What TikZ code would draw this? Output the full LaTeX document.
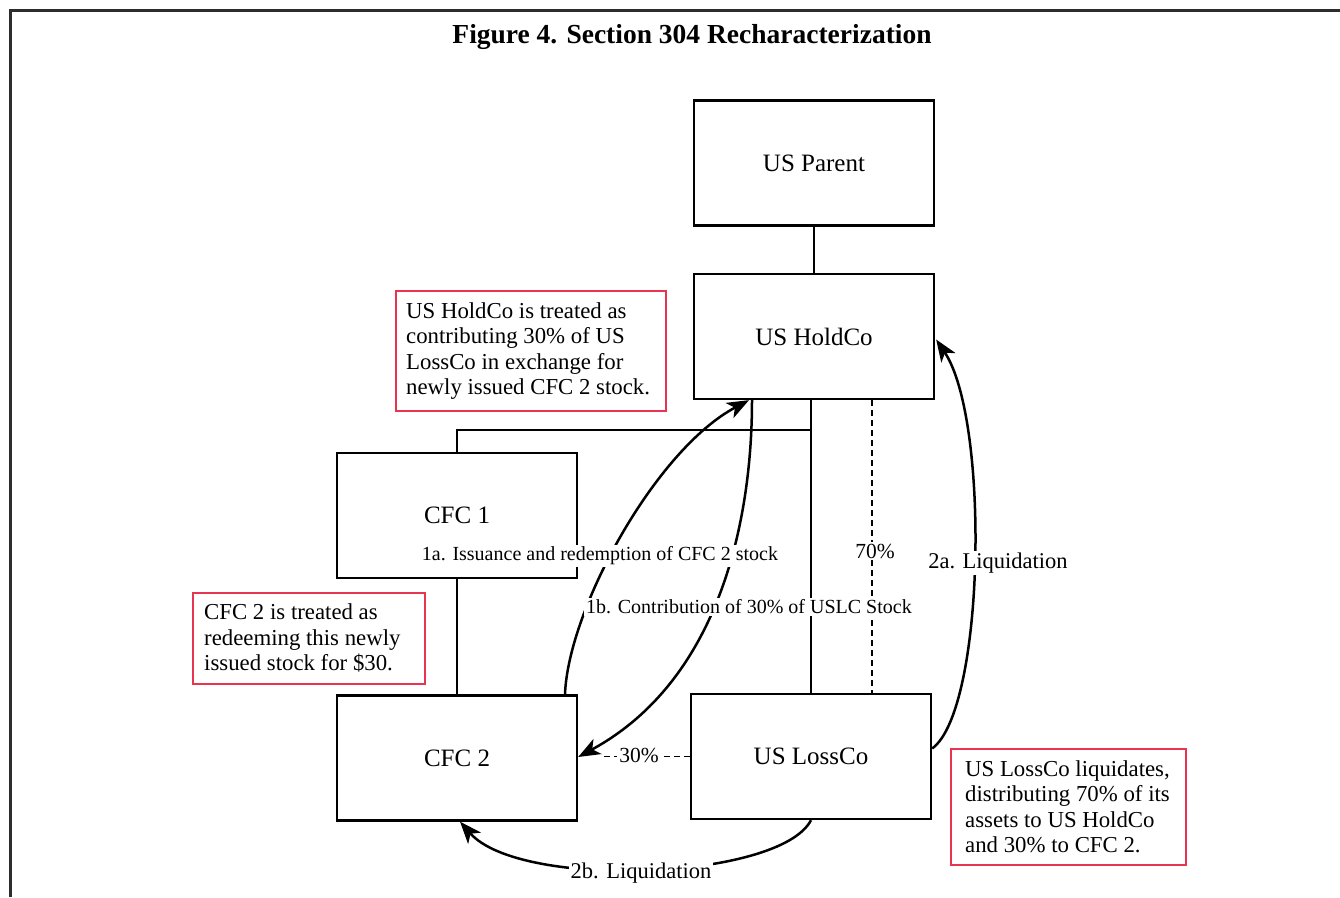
\documentclass[tikz,border=0pt]{standalone}
\usepackage{fontspec}
\setmainfont{Liberation Serif}
\usetikzlibrary{arrows.meta}

\definecolor{notered}{RGB}{232,52,78}
\definecolor{framegray}{RGB}{45,45,45}

\begin{document}
\begin{tikzpicture}[x=1pt,y=-1pt,
  entity/.style={draw, line width=2.3pt, minimum width=240pt, minimum height=125pt,
    inner sep=0pt, font=\fontsize{25}{28}\selectfont},
  notebox/.style={draw=notered, line width=1.8pt, anchor=north west, inner sep=0pt},
  notetext/.style={anchor=west, align=left, inner sep=0pt,
    font=\fontsize{22.8}{25.5}\selectfont},
  tie/.style={line width=1.8pt},
  share/.style={line width=1.5pt, dash pattern=on 6pt off 4pt},
  flow/.style={line width=2.5pt, -{Stealth[length=22pt,width=17pt,inset=6pt]}},
  steplabel/.style={fill=white, inner sep=2pt, font=\fontsize{20}{22}\selectfont},
  liqlabel/.style={fill=white, inner sep=2pt, font=\fontsize{22.5}{24}\selectfont},
  pctlabel/.style={fill=white, inner sep=2pt, font=\fontsize{21.5}{24}\selectfont},
]
\useasboundingbox (0,0) rectangle (1340,897);
\fill[white] (0,0) rectangle (1340,897);

% outer frame (top and left edges)
\draw[framegray, line width=3pt] (10,897) -- (10,10) -- (1340,10);

% title
\node (title) at (692,37) {\fontsize{27.5}{30}\selectfont\bfseries Figure 4. Section 304 Recharacterization};

% entities
\node[entity] (parent) at (814,163) {US Parent};
\node[entity] (holdco) at (814,336.5) {US HoldCo};
\node[entity] (cfc1)   at (457,515.5) {CFC 1};
\node[entity] (cfc2)   at (457,758) {CFC 2};
\node[entity] (lossco) at (811,756.5) {US LossCo};

% ownership lines
\coordinate (branch) at (811,430);
\draw[tie] (parent) -- (holdco);
\draw[tie] (holdco.south -| lossco.north) -- (lossco.north);
\draw[tie] (branch) -| (cfc1.north);
\draw[tie] (cfc1) -- (cfc2);
\draw[share] ([xshift=58pt]holdco.south) -- ([xshift=61pt]lossco.north);
\draw[share] (lossco.west) -- ([xshift=22pt]cfc2.east |- lossco.west);

% transaction steps
\draw[flow] ([xshift=108pt]cfc2.north) .. controls (568,610) and (655,450) .. ([xshift=-65pt]holdco.south);
\draw[flow] ([xshift=-62pt]holdco.south) .. controls (752,520) and (720,680) .. ([yshift=1pt]cfc2.east);
\draw[flow] ([yshift=8pt]lossco.east) .. controls (985,710) and (990,420) .. ([yshift=-3pt,xshift=1pt]holdco.east);
\draw[flow] (lossco.south) .. controls (780,880) and (520,890) .. ([xshift=3pt]cfc2.south);

% step labels
\node[steplabel] (l1a) at (600,556) {1a. Issuance and redemption of CFC 2 stock};
\node[steplabel] (l1b) at (749,607) {1b. Contribution of 30\% of USLC Stock};
\node[pctlabel]  (p70) at (875,551) {70\%};
\node[pctlabel]  (p30) at (639,755) {30\%};
\node[liqlabel]  (l2a) at (998,563) {2a. Liquidation};
\node[liqlabel]  (l2b) at (641,873) {2b. Liquidation};

% explanatory notes
\node[notebox, minimum width=270pt, minimum height=120pt] (n1) at (395,290) {};
\node[notetext] (n1t) at ([xshift=11pt]n1.west)
  {US HoldCo is treated as\\contributing 30\% of US\\LossCo in exchange for\\newly issued CFC 2 stock.};
\node[notebox, minimum width=232pt, minimum height=91pt] (n2) at (192,592) {};
\node[notetext] (n2t) at ([xshift=12pt]n2.west)
  {CFC 2 is treated as\\redeeming this newly\\issued stock for \$30.};
\node[notebox, minimum width=235pt, minimum height=116pt] (n3) at (950,748) {};
\node[notetext] (n3t) at ([xshift=15pt]n3.west)
  {US LossCo liquidates,\\distributing 70\% of its\\assets to US HoldCo\\and 30\% to CFC 2.};
\end{tikzpicture}
\end{document}
